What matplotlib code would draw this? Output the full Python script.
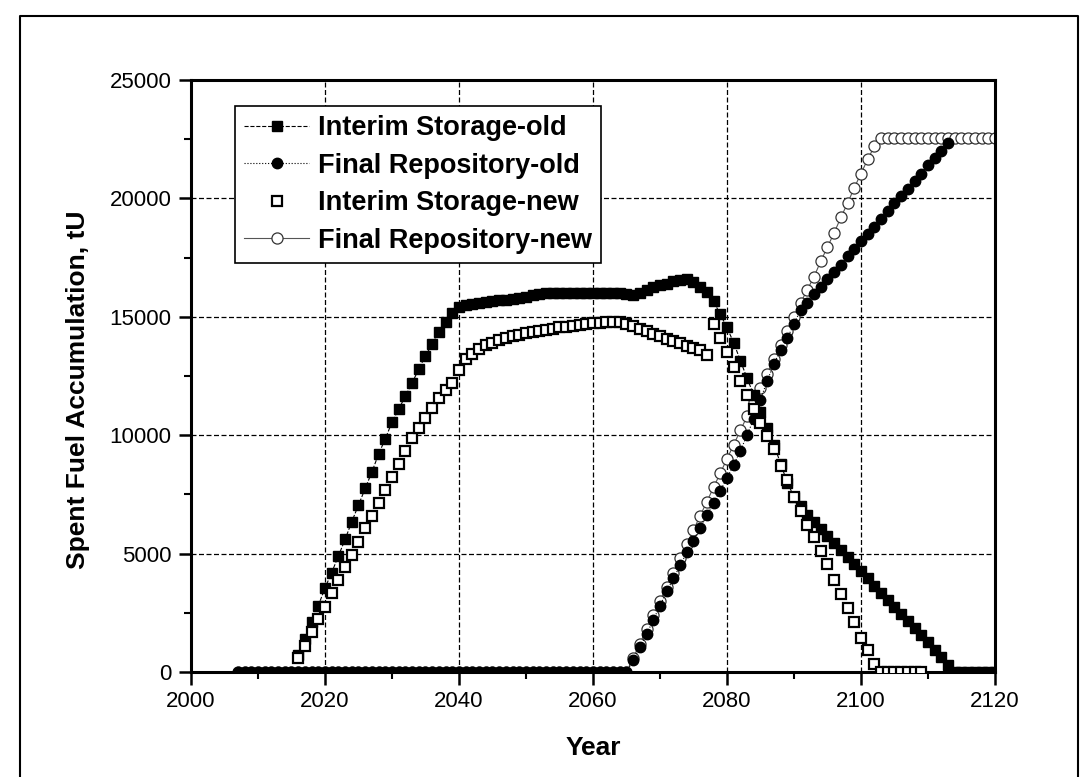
'''External modules'''
import numpy as np
import matplotlib
matplotlib.use('Agg')
from matplotlib import pyplot as plt
from matplotlib.lines import Line2D
from matplotlib.ticker import MultipleLocator

plt.rcParams['font.family'] = ['Liberation Sans', 'DejaVu Sans']

'''Data read off the chart (tU per year)'''
interim_years = np.arange(2016, 2121)
interim_old = [
    700, 1400, 2100, 2800, 3550, 4200, 4900, 5600, 6350, 7050,         # 2016-2025
    7750, 8450, 9200, 9850, 10550, 11100, 11650, 12200, 12800, 13350,  # 2026-2035
    13850, 14350, 14800, 15150, 15400, 15500, 15550, 15600, 15620, 15650,  # 2036-2045
    15700, 15720, 15750, 15800, 15850, 15900, 15950, 16000, 16000, 16000,  # 2046-2055
    16000, 16000, 16000, 16000, 16000, 16000, 16000, 16000, 16000, 15950,  # 2056-2065
    15900, 16000, 16150, 16250, 16350, 16400, 16500, 16550, 16600, 16450,  # 2066-2075
    16250, 16050, 15650, 15100, 14550, 13900, 13150, 12400, 11700, 11000,  # 2076-2085
    10300, 9600, 8800, 8000, 7400, 7000, 6650, 6350, 6050, 5750,       # 2086-2095
    5450, 5150, 4850, 4550, 4250, 3950, 3650, 3350, 3050, 2750,        # 2096-2105
    2450, 2150, 1850, 1550, 1250, 950, 650, 300, 0, 0,                 # 2106-2115
    0, 0, 0, 0, 0,                                                     # 2116-2120
]

interim_new_years = np.arange(2016, 2110)
interim_new = [
    580, 1110, 1700, 2220, 2760, 3350, 3890, 4420, 4940, 5500,         # 2016-2025
    6070, 6590, 7120, 7690, 8250, 8780, 9350, 9870, 10290, 10710,      # 2026-2035
    11130, 11560, 11910, 12220, 12750, 13200, 13450, 13650, 13800, 13900,  # 2036-2045
    14000, 14100, 14200, 14250, 14300, 14350, 14400, 14450, 14500, 14550,  # 2046-2055
    14580, 14620, 14660, 14700, 14720, 14750, 14770, 14780, 14770, 14700,  # 2056-2065
    14600, 14480, 14380, 14270, 14170, 14070, 13980, 13880, 13780, 13680,  # 2066-2075
    13600, 13400, 14700, 14100, 13500, 12900, 12300, 11700, 11100, 10500,  # 2076-2085
    9950, 9400, 8700, 8100, 7400, 6800, 6200, 5700, 5100, 4550,       # 2086-2095
    3900, 3300, 2700, 2100, 1450, 950, 350, 0, 0, 0,                   # 2096-2105
    0, 0, 0, 0,                                                        # 2106-2109
]

final_zero = [0] * 59  # 2007-2065
final_old_years = np.arange(2007, 2114)
final_old = final_zero + [
    500, 1050, 1600, 2200, 2800, 3400, 3950, 4500, 5050, 5550,         # 2066-2075
    6100, 6650, 7150, 7650, 8200, 8750, 9350, 10000, 10700, 11500,     # 2076-2085
    12300, 13000, 13600, 14100, 14700, 15300, 15600, 15950, 16250, 16600,  # 2086-2095
    16900, 17200, 17550, 17850, 18200, 18500, 18800, 19150, 19450, 19800,  # 2096-2105
    20100, 20400, 20750, 21050, 21400, 21700, 22000, 22350,            # 2106-2113
]
final_new_years = np.arange(2007, 2121)
final_new = final_zero + [
    600, 1200, 1800, 2400, 3000, 3600, 4200, 4800, 5400, 6000,         # 2066-2075
    6600, 7200, 7800, 8400, 9000, 9600, 10200, 10800, 11400, 12000,    # 2076-2085
    12600, 13200, 13800, 14400, 15000, 15600, 16150, 16700, 17350, 17950,  # 2086-2095
    18550, 19200, 19800, 20450, 21050, 21650, 22200, 22550, 22550, 22550,  # 2096-2105
    22550, 22550, 22550, 22550, 22550, 22550, 22550, 22550, 22550, 22550,  # 2106-2115
    22550, 22550, 22550, 22550, 22550,                                 # 2116-2120
]

labels = ['Interim Storage-old', 'Final Repository-old',
          'Interim Storage-new', 'Final Repository-new']

'''Figure'''
fig = plt.figure(figsize=(10.8, 7.77), dpi=100)
ax = fig.add_axes([191/1080, 105/777, 804/1080, 592/777])

h4, = ax.plot(final_new_years, final_new, linestyle='-', color='#555555', linewidth=0.8,
              marker='o', markersize=8, markerfacecolor='white',
              markeredgecolor='#333333', markeredgewidth=0.9, zorder=2)
h1, = ax.plot(interim_years, interim_old, linestyle='--', color='black', linewidth=0.8,
              marker='s', markersize=7, markerfacecolor='black',
              markeredgecolor='black', zorder=3)
h2, = ax.plot(final_old_years, final_old, linestyle=':', color='black', linewidth=0.8,
              marker='o', markersize=7.5, markerfacecolor='black',
              markeredgecolor='black', zorder=4)
h3, = ax.plot(interim_new_years, interim_new, linestyle='none',
              marker='s', markersize=7, markerfacecolor='white',
              markeredgecolor='black', markeredgewidth=1.6, zorder=5)

ax.set_xlim(2000, 2120)
ax.set_ylim(0, 25000)
ax.set_xticks(np.arange(2000, 2121, 20))
ax.set_yticks(np.arange(0, 25001, 5000))
ax.xaxis.set_minor_locator(MultipleLocator(10))
ax.yaxis.set_minor_locator(MultipleLocator(2500))
ax.tick_params(which='major', direction='out', length=9, width=1.8,
               labelsize=16, pad=5)
ax.tick_params(which='minor', direction='out', length=5, width=1.5)
for s in ax.spines.values():
    s.set_linewidth(2.2)

ax.set_axisbelow(True)
ax.grid(True, which='major', color='black', linestyle=(0, (4, 2)), linewidth=0.9)

ax.set_xlabel('Year', fontsize=19, fontweight='bold', labelpad=17)
ax.set_ylabel('Spent Fuel Accumulation, tU', fontsize=19, fontweight='bold')
ax.yaxis.set_label_coords(-0.126, 0.476)

leg = ax.legend([h1, h2, h3, h4], labels, loc='upper left',
                bbox_to_anchor=(44/804, 566/592), borderaxespad=0,
                prop={'size': 19.5, 'weight': 'bold'}, handlelength=2.4,
                handletextpad=0.3, labelspacing=0.42, borderpad=0.35,
                fancybox=False, framealpha=1, edgecolor='black')
leg.get_frame().set_linewidth(1.2)

# outer border of the scanned figure
fig.add_artist(Line2D([20/1080, 20/1080, 1078/1080, 1078/1080],
                      [0, 1 - 16/777, 1 - 16/777, 0],
                      transform=fig.transFigure, color='black', linewidth=1.5))

plt.savefig('out.png', dpi=100)
